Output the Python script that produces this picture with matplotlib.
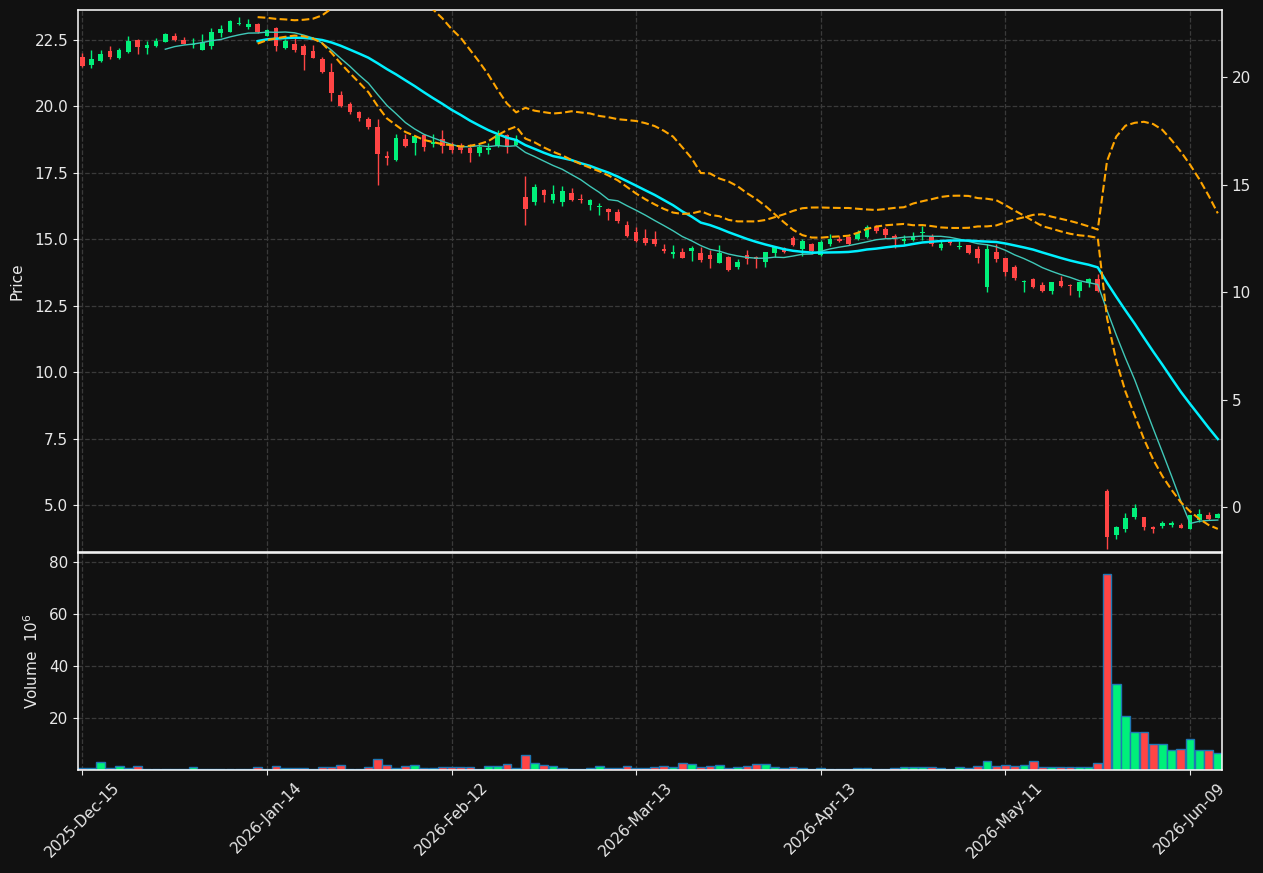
import numpy as np
import matplotlib.pyplot as plt

# daily candles, values (price in $, volume in millions)
opens = [21.88, 21.58, 21.70, 22.07, 21.82, 22.04, 22.52, 22.19, 22.27, 22.44,
         22.67, 22.52, 22.33, 22.14, 22.29, 22.78, 22.82, 23.10, 23.01, 23.12,
         22.67, 22.94, 22.19, 22.37, 22.29, 22.07, 21.77, 21.28, 20.45, 20.08,
         19.81, 19.51, 19.24, 18.12, 17.97, 18.76, 18.61, 18.91, 18.58, 18.76,
         18.57, 18.50, 18.43, 18.24, 18.36, 18.50, 18.94, 18.56, 16.58, 16.39,
         16.84, 16.47, 16.41, 16.73, 16.52, 16.28, 16.20, 16.13, 16.02, 15.53,
         15.26, 15.04, 15.00, 14.64, 14.45, 14.51, 14.57, 14.47, 14.40, 14.11,
         14.35, 13.95, 14.40, 14.35, 14.15, 14.47, 14.66, 15.04, 14.62, 14.81,
         14.40, 14.81, 15.00, 15.08, 15.00, 15.08, 15.45, 15.38, 15.11, 14.92,
         14.96, 15.23, 15.11, 14.66, 14.96, 14.71, 14.77, 14.62, 13.20, 14.51,
         14.29, 13.95, 13.38, 13.50, 13.27, 13.05, 13.42, 13.28, 13.05, 13.35,
         13.50, 5.53, 3.88, 4.11, 4.56, 4.54, 4.18, 4.22, 4.26, 4.26,
         4.11, 4.45, 4.61, 4.52]
highs = [22.03, 22.14, 22.14, 22.29, 22.19, 22.67, 22.55, 22.48, 22.56, 22.78,
         22.78, 22.60, 22.59, 22.73, 22.97, 23.05, 23.27, 23.38, 23.31, 23.16,
         22.93, 22.98, 22.55, 22.57, 22.36, 22.32, 21.85, 21.64, 20.59, 20.16,
         19.84, 19.62, 19.54, 18.31, 18.98, 18.96, 18.88, 18.97, 18.95, 19.10,
         18.68, 18.62, 18.60, 18.60, 18.61, 19.12, 18.97, 18.91, 17.37, 17.09,
         16.88, 17.03, 16.99, 16.95, 16.69, 16.53, 16.35, 16.16, 16.14, 15.68,
         15.48, 15.38, 15.30, 14.81, 14.80, 14.66, 14.73, 14.70, 14.58, 14.77,
         14.37, 14.24, 14.59, 14.37, 14.53, 14.73, 14.70, 15.12, 15.02, 14.85,
         14.96, 15.19, 15.14, 15.11, 15.34, 15.53, 15.53, 15.45, 15.19, 15.15,
         15.26, 15.49, 15.19, 14.96, 14.98, 14.94, 14.80, 14.75, 14.81, 14.81,
         14.30, 14.02, 13.46, 13.53, 13.38, 13.40, 13.61, 13.30, 13.40, 13.53,
         13.68, 5.60, 4.20, 4.71, 5.03, 4.56, 4.20, 4.41, 4.41, 4.31,
         4.63, 4.84, 4.73, 4.71]
lows = [21.48, 21.43, 21.68, 21.80, 21.80, 22.02, 21.98, 21.98, 22.25, 22.41,
        22.48, 22.34, 22.19, 22.12, 22.15, 22.60, 22.80, 23.05, 22.92, 22.77,
        22.65, 22.07, 22.15, 22.04, 21.38, 21.82, 21.26, 20.21, 19.98, 19.71,
        19.44, 19.16, 17.06, 17.81, 17.95, 18.47, 18.18, 18.31, 18.46, 18.26,
        18.26, 18.25, 17.91, 18.13, 18.21, 18.48, 18.26, 18.54, 15.55, 16.28,
        16.40, 16.38, 16.25, 16.46, 16.38, 16.09, 15.93, 15.74, 15.63, 15.10,
        14.90, 14.80, 14.76, 14.50, 14.30, 14.28, 14.20, 14.15, 13.92, 14.09,
        13.80, 13.89, 14.07, 13.92, 13.96, 14.35, 14.48, 14.75, 14.37, 14.46,
        14.36, 14.74, 14.88, 14.79, 14.98, 15.06, 15.23, 15.04, 14.66, 14.81,
        14.92, 14.96, 14.74, 14.59, 14.77, 14.62, 14.44, 14.10, 13.01, 14.14,
        13.61, 13.46, 13.00, 13.16, 13.01, 12.93, 13.20, 12.89, 12.81, 13.20,
        13.03, 3.36, 3.71, 4.00, 4.46, 4.05, 3.94, 4.15, 4.18, 4.13,
        4.09, 4.37, 4.42, 4.50]
closes = [21.54, 21.77, 21.99, 21.88, 22.11, 22.48, 22.23, 22.33, 22.48, 22.74,
          22.52, 22.36, 22.36, 22.44, 22.82, 22.93, 23.20, 23.13, 23.12, 22.79,
          22.86, 22.26, 22.48, 22.14, 21.95, 21.84, 21.28, 20.49, 20.00, 19.81,
          19.55, 19.24, 18.20, 18.06, 18.80, 18.53, 18.87, 18.49, 18.65, 18.53,
          18.35, 18.35, 18.24, 18.46, 18.42, 18.94, 18.53, 18.76, 16.13, 16.97,
          16.65, 16.69, 16.80, 16.48, 16.48, 16.47, 16.25, 16.03, 15.68, 15.12,
          14.92, 14.85, 14.81, 14.57, 14.51, 14.30, 14.66, 14.21, 14.25, 14.47,
          13.83, 14.14, 14.25, 14.26, 14.51, 14.71, 14.52, 14.77, 14.92, 14.55,
          14.89, 15.00, 14.92, 14.81, 15.23, 15.45, 15.30, 15.15, 15.04, 15.00,
          15.08, 15.26, 14.81, 14.81, 14.85, 14.75, 14.47, 14.29, 14.62, 14.25,
          13.76, 13.53, 13.42, 13.20, 13.05, 13.38, 13.23, 13.24, 13.38, 13.50,
          13.05, 3.81, 4.16, 4.50, 4.88, 4.16, 4.11, 4.33, 4.33, 4.15,
          4.61, 4.65, 4.46, 4.65]
volumes = [1.0, 1.0, 3.1, 1.0, 1.8, 1.0, 1.5, 0.4, 0.6, 0.6,
           0.5, 0.5, 1.15, 0.6, 0.6, 0.6, 0.6, 0.6, 0.6, 1.4,
           0.6, 1.5, 1.0, 1.0, 1.0, 0.6, 1.4, 1.4, 1.9, 0.6,
           0.6, 1.15, 4.2, 1.9, 1.0, 1.5, 1.9, 1.0, 1.0, 1.4,
           1.4, 1.4, 1.4, 0.6, 1.5, 1.5, 2.3, 1.0, 5.75, 2.7,
           1.9, 1.5, 1.0, 0.6, 0.6, 1.0, 1.5, 1.0, 1.0, 1.5,
           1.0, 1.0, 1.4, 1.8, 1.4, 2.95, 2.6, 1.4, 1.8, 2.2,
           1.0, 1.4, 1.8, 2.6, 2.6, 1.4, 1.0, 1.4, 1.0, 0.5,
           1.0, 0.5, 0.5, 0.5, 1.0, 1.0, 0.5, 0.5, 1.0, 1.4,
           1.4, 1.4, 1.4, 1.0, 0.5, 1.4, 1.0, 1.8, 3.7, 1.8,
           2.2, 1.8, 2.2, 3.7, 1.4, 1.4, 1.4, 1.4, 1.4, 1.4,
           2.95, 75.6, 33.3, 21.0, 14.85, 14.85, 10.0, 10.25, 7.9, 8.3,
           12.2, 7.9, 7.9, 6.8]

tick_labels = ['2025-Dec-15', '2026-Jan-14', '2026-Feb-12', '2026-Mar-13',
               '2026-Apr-13', '2026-May-11', '2026-Jun-09']

BG = '#111111'
UP = '#00f07a'
DOWN = '#ff4545'
FG = '#e8e8e8'


def rolling(values, n, func):
    out = np.full(len(values), np.nan)
    for i in range(n - 1, len(values)):
        out[i] = func(values[i - n + 1:i + 1])
    return out


o = np.array(opens)
h = np.array(highs)
l = np.array(lows)
c = np.array(closes)
v = np.array(volumes)
x = np.arange(len(c))

ma10 = rolling(c, 10, np.mean)
ma20 = rolling(c, 20, np.mean)
sd20 = rolling(c, 20, np.std)
bb_up = ma20 + 2 * sd20
bb_low = ma20 - 2 * sd20

colors = np.where(c >= o, UP, DOWN)

fig = plt.figure(figsize=(12.63, 8.73), dpi=100, facecolor=BG)
ax = fig.add_axes([0.0618, 0.3677, 0.9057, 0.6208])
axv = fig.add_axes([0.0618, 0.118, 0.9057, 0.2486], sharex=ax)

for a in (ax, axv):
    a.set_facecolor(BG)
    a.grid(True, color='#3a3a3a', linestyle='--', linewidth=0.9)
    a.set_axisbelow(True)
    for s in a.spines.values():
        s.set_color('white')
        s.set_linewidth(1.1)
    a.tick_params(colors=FG, labelsize=11)

# candles
ax.vlines(x, l, h, colors=colors, linewidth=1.0, zorder=2)
body = np.maximum(np.abs(c - o), 0.02)
ax.bar(x, body, bottom=np.minimum(o, c), width=0.5, color=colors, zorder=3)

# moving averages and bollinger bands
ax.plot(x, ma10, color='#40c8b8', linewidth=1.0, zorder=4)
ax.plot(x, ma20, color='#00f0ff', linewidth=1.8, zorder=4)
ax.plot(x, bb_up, color='orange', linestyle='--', linewidth=1.5, zorder=4)

ax2 = ax.twinx()
ax2.plot(x, bb_low, color='orange', linestyle='--', linewidth=1.5)
ax2.set_ylim(-2.09, 23.12)
ax2.tick_params(colors=FG, labelsize=11)
for s in ax2.spines.values():
    s.set_visible(False)

ax.set_ylim(3.23, 23.63)
ax.set_yticks([5, 7.5, 10, 12.5, 15, 17.5, 20, 22.5])
ax.set_ylabel('Price', color=FG, fontsize=11, labelpad=7)
ax.set_xlim(-0.45, len(c) - 0.55)
ax.tick_params(axis='x', labelbottom=False, length=0)

# volume
axv.bar(x, v, width=0.95, color=colors, edgecolor='#1f77b4', linewidth=1.0)
axv.set_ylim(0.15, 83.5)
axv.set_yticks([20, 40, 60, 80])
axv.set_ylabel('Volume  $10^{6}$', color=FG, fontsize=11, labelpad=6)
axv.set_xticks(np.arange(0, len(c), 20))
axv.set_xticklabels(tick_labels, rotation=45, ha='center')

fig.savefig('out.png', dpi=100, facecolor=BG)
